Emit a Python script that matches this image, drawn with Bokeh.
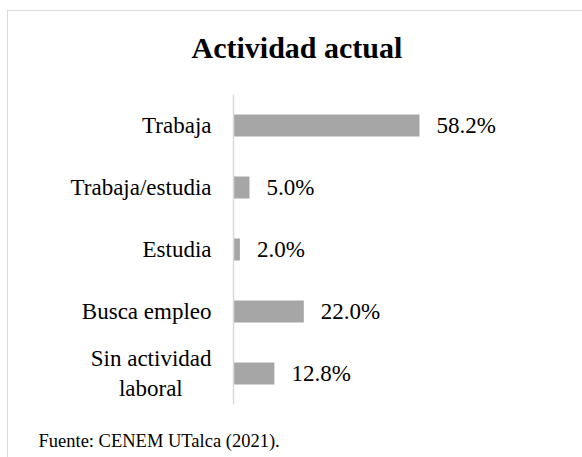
from bokeh.plotting import figure
from bokeh.models import Range1d, FactorRange, ColumnDataSource, Title, InlineStyleSheet
from bokeh.core.properties import value
from bokeh.embed import file_html
from bokeh.resources import INLINE

categories = ["Trabaja", "Trabaja/estudia", "Estudia", "Busca empleo",
              "Sin actividad\nlaboral\u00a0\u00a0\u00a0\u00a0\u00a0"]
values = [58.2, 5.0, 2.0, 22.0, 12.8]
value_labels = ["58.2%", "5.0%", "2.0%", "22.0%", "12.8%"]
title_text = "Actividad actual"
source_text = "Fuente: CENEM UTalca (2021)."

FONT = "Liberation Serif"

src = ColumnDataSource(dict(cat=categories, val=values, lab=value_labels))

frame_css = InlineStyleSheet(css="""
:host { position: relative; }
:host::after {
  content: ""; position: absolute; left: 7px; top: 10px; right: 0; bottom: 0;
  border-left: 1.5px solid #d9d9d9; border-top: 1.5px solid #d9d9d9;
  pointer-events: none;
}
""")

p = figure(width=582, height=457, output_backend="svg", toolbar_location=None,
           y_range=FactorRange(factors=categories[::-1], range_padding=0),
           x_range=Range1d(0, 109.2),
           min_border_left=233, min_border_right=0, min_border_top=94, min_border_bottom=53,
           stylesheets=[frame_css])
p.outline_line_color = None
p.background_fill_color = "white"
p.border_fill_color = "white"
p.xgrid.visible = False
p.ygrid.visible = False
p.xaxis.visible = False

ax = p.yaxis[0]
ax.axis_line_color = "#d9d9d9"
ax.axis_line_width = 1.5
ax.major_tick_line_color = None
ax.minor_tick_line_color = None
ax.major_tick_out = 0
ax.major_tick_in = 0
ax.major_label_standoff = 22
ax.major_label_text_font = FONT
ax.major_label_text_font_size = "23px"
ax.major_label_text_color = "#000000"

p.hbar(y="cat", right="val", left=0, height=0.355, source=src,
       fill_color="#a6a6a6", line_color=None)
p.text(x="val", y="cat", text="lab", source=src, x_offset=17,
       text_font=value(FONT), text_font_size="23px", text_baseline="middle",
       text_align="left", text_color="#000000")

p.add_layout(Title(text=title_text, text_font=FONT, text_font_size="30px",
                   text_font_style="bold", text_color="#000000",
                   align="left", offset=-42, standoff=58,
                   vertical_align="top"), "above")
# spacer between plot area and source note
p.add_layout(Title(text=" ", text_font=FONT, text_font_size="10px",
                   standoff=13), "below")
p.add_layout(Title(text=source_text, text_font=FONT, text_font_size="18.5px",
                   text_font_style="normal", text_color="#000000",
                   align="left", offset=-195, standoff=0,
                   vertical_align="top"), "below")

open("out.html", "w").write(file_html(p, INLINE))
